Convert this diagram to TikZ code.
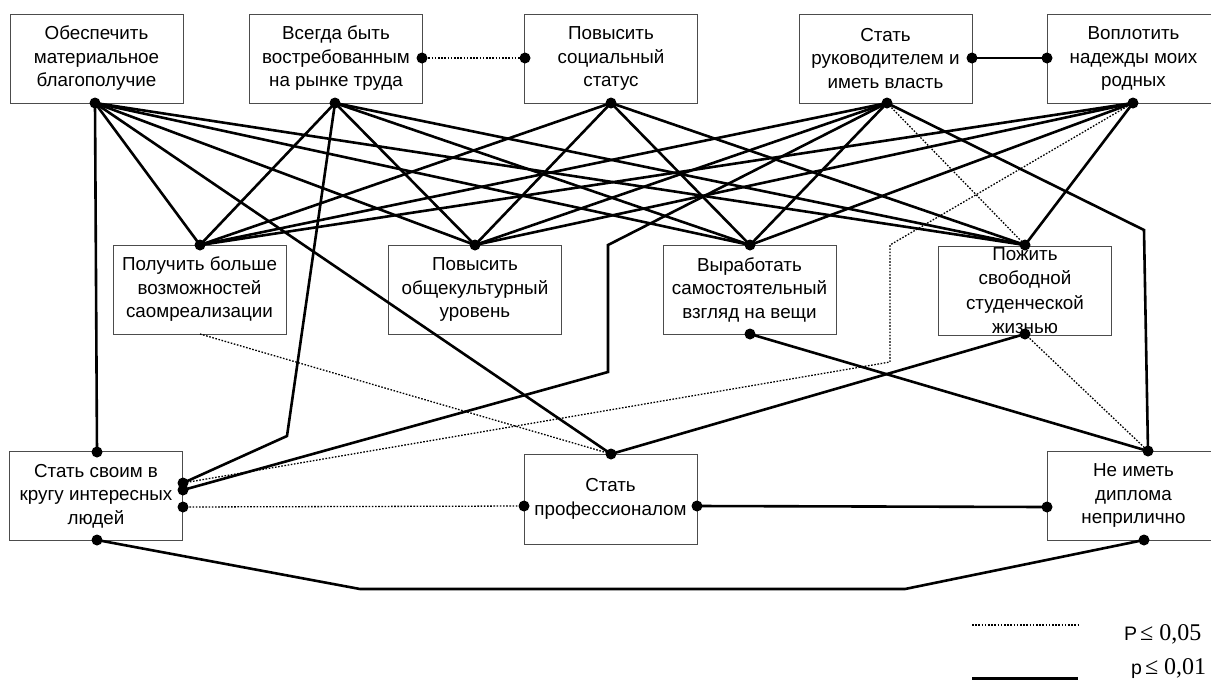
\documentclass[tikz,border=0pt]{standalone}
\usepackage{fontspec}
\setmainfont{Liberation Sans}
\newfontfamily\seriffont{Liberation Serif}
\begin{document}
\begin{tikzpicture}[x=1pt,y=-1pt,
  box/.style={draw=black!70, line width=0.9pt, minimum width=173pt, minimum height=89pt,
    inner sep=0pt, align=center, font=\fontsize{18.8}{23.5}\selectfont},
  solid line/.style={line width=2.6pt, line join=miter},
  dot line/.style={line width=1.3pt, dash pattern=on 1.6pt off 1.6pt},
  dotfill/.style={fill=black}]
\useasboundingbox (0,0) rectangle (1211,681);
\fill[white] (0,0) rectangle (1211,681);

% boxes
\node[box] (A1) at (96.5,58.5) {Обеспечить\\материальное\\благополучие};
\node[box] (A2) at (336,58.5) {Всегда быть\\востребованным\\на рынке труда};
\node[box] (A3) at (611,58.5) {Повысить\\социальный\\статус};
\node[box] (A4) at (885.5,58.5) {Стать\\руководителем и\\иметь власть};
\node[box] (A5) at (1133.5,58.5) {Воплотить\\надежды моих\\родных};

\node[box] (B1) at (199.5,289.5) {Получить больше\\возможностей\\саомреализации};
\node[box] (B2) at (475,289.5) {Повысить\\общекультурный\\уровень};
\node[box] (B3) at (749.5,289.5) {Выработать\\самостоятельный\\взгляд на вещи};
\node[box, font=\fontsize{18.8}{24.5}\selectfont] (B4) at (1025,290.5) {Пожить\\свободной\\студенческой\\жизнью};

\node[box] (C1) at (96,496) {Стать своим в\\кругу интересных\\людей};
\node[box, minimum height=90pt] (C2) at (610.5,499) {Стать\\профессионалом};
\node[box] (C3) at (1133.5,495.5) {Не иметь\\диплома\\неприлично};

% dot positions
\coordinate (A1s) at (95,103);
\coordinate (A2s) at (335,103);
\coordinate (A2e) at (422,58);
\coordinate (A3w) at (525,58);
\coordinate (A3s) at (611,103);
\coordinate (A4s) at (887,103);
\coordinate (A4e) at (972,58);
\coordinate (A5w) at (1047,58);
\coordinate (A5s) at (1133,103);
\coordinate (B1n) at (200,245);
\coordinate (B1s) at (200,334);
\coordinate (B2n) at (475,245);
\coordinate (B3n) at (750,245);
\coordinate (B3s) at (750,334);
\coordinate (B4n) at (1025,245);
\coordinate (B4s) at (1025,334);
\coordinate (C1n) at (97,452);
\coordinate (C1e1) at (183,483);
\coordinate (C1e2) at (183,490);
\coordinate (C1e3) at (183,507);
\coordinate (C1s) at (97,540);
\coordinate (C2n) at (611,454);
\coordinate (C2w) at (524,506);
\coordinate (C2e) at (697,506);
\coordinate (C3n) at (1148,451);
\coordinate (C3w) at (1047,507);
\coordinate (C3s) at (1144,540);
% bend points
\coordinate (k1) at (287,436);
\coordinate (k2) at (608,245);
\coordinate (k3) at (608,372);
\coordinate (k4) at (1144,230);
\coordinate (k5) at (890,245);
\coordinate (k6) at (890,362);
\coordinate (k7) at (360,589);
\coordinate (k8) at (905,589);

% solid connections
\draw[solid line] (A1s) -- (C1n);
\foreach \t in {B1n,C2n,B2n,B3n,B4n} \draw[solid line] (A1s) -- (\t);
\foreach \t in {B1n,B2n,B3n,B4n} \draw[solid line] (A2s) -- (\t);
\draw[solid line] (A2s) -- (k1) -- (C1e1);
\foreach \t in {B1n,B2n,B3n,B4n} \draw[solid line] (A3s) -- (\t);
\foreach \t in {B1n,B2n,B3n} \draw[solid line] (A4s) -- (\t);
\draw[solid line] (A4s) -- (k2) -- (k3) -- (C1e2);
\draw[solid line] (A4s) -- (k4) -- (C3n);
\draw[solid line] (A4e) -- (A5w);
\foreach \t in {B1n,B2n,B3n,B4n} \draw[solid line] (A5s) -- (\t);
\draw[solid line] (B3s) -- (C3n);
\draw[solid line] (B4s) -- (C2n);
\draw[solid line] (C2e) -- (C3w);
\draw[solid line] (C1s) -- (k7) -- (k8) -- (C3s);

% dotted connections
\draw[dot line] (A2e) -- (A3w);
\draw[dot line] (A4s) -- (B4n);
\draw[dot line] (A5s) -- (k5) -- (k6) -- (C1e1);
\draw[dot line] (B1s) -- (C2n);
\draw[dot line] (B4s) -- (C3n);
\draw[dot line] (C1e3) -- (C2w);

% dots
\foreach \d in {A1s,A2s,A2e,A3w,A3s,A4s,A4e,A5w,A5s,B1n,B2n,B3n,B3s,B4n,B4s,C1n,C1e1,C1e2,C1e3,C1s,C2n,C2w,C2e,C3n,C3w,C3s}
  \fill[dotfill] (\d) circle (5.5pt);

% legend
\coordinate (L1a) at (972,625);
\coordinate (L1b) at (1078,625);
\coordinate (L2a) at (972,678);
\coordinate (L2b) at (1078,678);
\draw[dot line] (L1a) -- (L1b);
\draw[line width=3pt] (L2a) -- (L2b);
\node[anchor=base west, inner sep=0pt, font=\fontsize{19.5}{22}\selectfont] (L1t) at (1124,640) {Р\hspace{3pt}{\seriffont\fontsize{24}{26}\selectfont ≤ 0,05}};
\node[anchor=base west, inner sep=0pt, font=\fontsize{19.5}{22}\selectfont] (L2t) at (1131,674) {р\hspace{3pt}{\seriffont\fontsize{24}{26}\selectfont ≤ 0,01}};
\end{tikzpicture}
\end{document}
